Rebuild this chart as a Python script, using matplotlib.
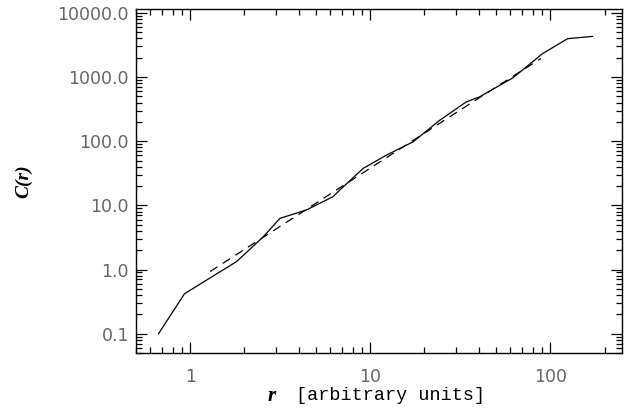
import matplotlib
matplotlib.use("Agg")
import matplotlib.pyplot as plt
from matplotlib.ticker import FixedLocator, FixedFormatter, LogLocator, NullFormatter

# correlation integral
r_data = [0.667, 0.93, 1.81, 2.55, 3.15, 4.43, 6.22, 6.78, 9.12, 12.3,
          17.3, 24.3, 34.1, 40.4, 61.8, 90.6, 124.7, 171.5]
c_data = [0.1, 0.42, 1.33, 3.26, 6.27, 8.5, 13.7, 17.4, 37.6, 60.7,
          97.9, 212.0, 410.0, 490.0, 967.0, 2320.0, 3960.0, 4300.0]

# power-law fit (dashed)
r_fit = [1.29, 35.6, 88.7]
c_fit = [0.93, 380.0, 1950.0]

x_ticks = [1, 10, 100]
x_labels = ["1", "10", "100"]
y_ticks = [0.1, 1, 10, 100, 1000, 10000]
y_labels = ["0.1", "1.0", "10.0", "100.0", "1000.0", "10000.0"]

fig = plt.figure(figsize=(6.32, 4.12), dpi=100)
ax = fig.add_axes([0.2152, 0.1432, 0.769, 0.835])

ax.plot(r_data, c_data, color="black", lw=0.9)
ax.plot(r_fit, c_fit, color="black", lw=0.9, dashes=(7, 5))

ax.set_xscale("log")
ax.set_yscale("log")
ax.set_xlim(0.5, 250)
ax.set_ylim(0.05, 11500)

ax.xaxis.set_major_locator(FixedLocator(x_ticks))
ax.xaxis.set_major_formatter(FixedFormatter(x_labels))
ax.yaxis.set_major_locator(FixedLocator(y_ticks))
ax.yaxis.set_major_formatter(FixedFormatter(y_labels))
for axis in (ax.xaxis, ax.yaxis):
    axis.set_minor_locator(LogLocator(base=10, subs=range(2, 10), numticks=20))
    axis.set_minor_formatter(NullFormatter())

ax.tick_params(which="both", direction="in", top=True, right=True, width=0.9)
ax.tick_params(which="major", length=8)
ax.tick_params(which="minor", length=4)
ax.tick_params(axis="x", which="major", pad=11)
ax.tick_params(axis="y", which="major", pad=5)
for lab in ax.get_xticklabels() + ax.get_yticklabels():
    lab.set_fontfamily("DejaVu Sans")
    lab.set_fontsize(12.5)
    lab.set_color("#666666")
for s in ax.spines.values():
    s.set_linewidth(1.0)

# x label: italic r plus typewriter units
fig.text(268 / 632, 1 - 396 / 412, "r", family="Liberation Serif",
         style="italic", weight="bold", fontsize=15, ha="left", va="center")
fig.text(296 / 632, 1 - 396 / 412, "[arbitrary units]", family="Liberation Mono",
         fontsize=13.3, ha="left", va="center")

ax.set_ylabel("C(r)", family="Liberation Serif", style="italic",
              weight="bold", fontsize=14, labelpad=18)

fig.savefig("out.png", dpi=100)
